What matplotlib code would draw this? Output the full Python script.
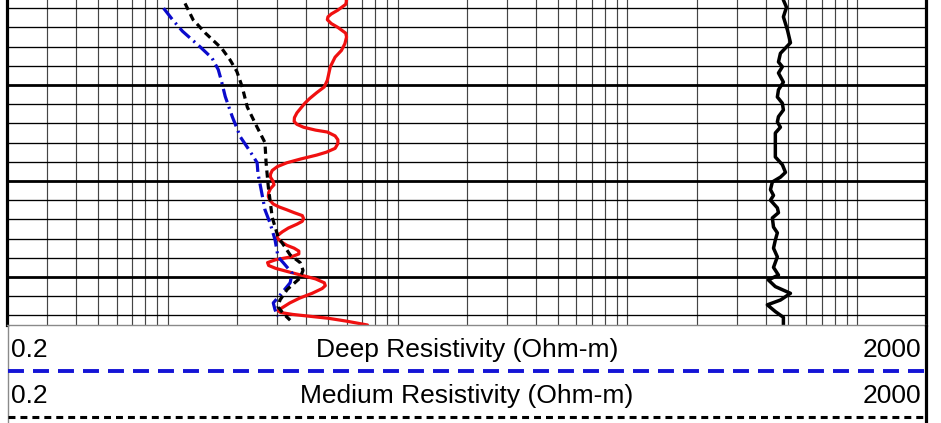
import matplotlib
matplotlib.use("Agg")
import matplotlib.pyplot as plt
from matplotlib.ticker import FixedLocator, NullFormatter
from matplotlib.lines import Line2D

plt.rcParams["font.family"] = ["Liberation Sans", "DejaVu Sans"]
plt.rcParams["lines.scale_dashes"] = False

# Resistivity scale (ohm-m) and depth window (ft)
res_min, res_max = 0.2, 2000
depth_top, depth_bottom = 5000.0, 5035.0

# Shallow resistivity (red, solid)
shallow_depth = [5000.0, 5001.2, 5001.6, 5002.2, 5002.6, 5002.9, 5003.2, 5003.6,
                 5004.0, 5004.6, 5005.0, 5005.7, 5006.4, 5007.1, 5008.1, 5009.5,
                 5010.2, 5010.8, 5011.4, 5011.9, 5012.9, 5013.4, 5013.8, 5014.1,
                 5014.4, 5014.7, 5014.9, 5015.3, 5015.7, 5016.1, 5016.6, 5017.0,
                 5017.3, 5017.7, 5018.1, 5018.5, 5018.9, 5019.3, 5019.6, 5020.0,
                 5020.4, 5020.8, 5021.2, 5021.6, 5022.0, 5022.4, 5022.7, 5023.0,
                 5023.3, 5023.6, 5023.9, 5024.2, 5024.5, 5024.9, 5025.3, 5025.7,
                 5025.9, 5026.3, 5026.7, 5027.0, 5027.3, 5027.6, 5027.9, 5028.2,
                 5028.5, 5028.8, 5029.1, 5029.5, 5029.8, 5030.2, 5030.6, 5030.9,
                 5031.2, 5031.7, 5032.2, 5032.7, 5033.2, 5033.5, 5033.7, 5033.9,
                 5034.3, 5034.6, 5035.0]
shallow_res = [5.7, 6.0, 5.95, 5.5, 5.15, 4.98, 4.95, 5.15,
               5.5, 5.95, 6.0, 5.9, 5.7, 5.35, 5.1, 4.95,
               4.8, 4.45, 4.15, 3.95, 3.65, 3.56, 3.55, 3.65,
               3.9, 4.4, 4.95, 5.35, 5.5, 5.5, 5.35, 4.9,
               4.45, 3.8, 3.3, 3.0, 2.85, 2.8, 2.8, 2.87,
               2.9, 2.8, 2.75, 2.74, 2.78, 2.88, 3.05, 3.3,
               3.55, 3.85, 3.9, 3.85, 3.65, 3.35, 3.15, 3.0,
               2.99, 3.1, 3.3, 3.55, 3.72, 3.72, 3.45, 2.95,
               2.72, 2.75, 2.95, 3.4, 3.8, 4.4, 4.8, 4.85,
               4.7, 4.25, 3.75, 3.4, 3.15, 3.02, 3.1, 3.5,
               5.0, 6.0, 7.4]

# Deep resistivity (blue, dash-dot)
deep_depth = [5002.0, 5003.2, 5004.4, 5006.0, 5007.2, 5008.4, 5009.5, 5011.2,
              5013.3, 5015.4, 5016.9, 5018.1, 5019.2, 5020.9, 5023.0, 5024.4,
              5026.1, 5027.9, 5028.5, 5029.6, 5030.6, 5031.9, 5032.7, 5033.4,
              5034.1]
deep_res = [0.96, 1.05, 1.16, 1.38, 1.56, 1.66, 1.71, 1.78,
            1.91, 2.07, 2.28, 2.45, 2.47, 2.55, 2.65, 2.79,
            2.93, 3.02, 3.18, 3.48, 3.41, 3.08, 2.88, 2.93,
            3.02]

# Medium resistivity (black, dashed)
medium_depth = [5001.5, 5003.2, 5004.6, 5006.2, 5007.4, 5008.6, 5010.2, 5012.3,
                5014.4, 5016.0, 5018.1, 5020.6, 5023.8, 5025.8, 5027.7, 5028.5,
                5029.3, 5030.1, 5031.3, 5032.4, 5033.1, 5033.8, 5034.5]
medium_res = [1.19, 1.29, 1.46, 1.72, 1.87, 2.0, 2.11, 2.22,
              2.45, 2.65, 2.68, 2.74, 2.85, 3.02, 3.41, 3.77,
              3.88, 3.77, 3.31, 3.08, 3.02, 3.18, 3.41]

# High-range trace on the right (black, solid)
right_depth = [5000.0, 5001.15, 5001.9, 5002.9, 5004.3, 5005.6, 5006.7, 5007.6,
               5008.1, 5008.75, 5009.7, 5010.5, 5011.25, 5011.9, 5012.6, 5013.3,
               5013.85, 5014.4, 5015.0, 5016.5, 5017.5, 5018.3, 5019.1, 5019.6,
               5020.1, 5020.9, 5021.5, 5022.0, 5022.8, 5023.3, 5023.85, 5024.8,
               5025.4, 5026.15, 5027.0, 5027.9, 5029.0, 5029.8, 5030.3, 5031.0,
               5031.7, 5032.4, 5032.9, 5033.6, 5034.2, 5035.0]
right_res = [477, 477, 492, 477, 497, 512, 463, 454,
             472, 454, 477, 454, 449, 472, 477, 454,
             449, 463, 440, 440, 440, 472, 487, 463,
             427, 419, 432, 419, 449, 454, 427, 432,
             449, 440, 432, 449, 432, 454, 410, 440,
             512, 463, 406, 440, 477, 477]

# Header rows
header_rows = [
    ("0.2", "Deep Resistivity (Ohm-m)", "2000"),
    ("0.2", "Medium Resistivity (Ohm-m)", "2000"),
]

W, H = 941, 423
fig = plt.figure(figsize=(W / 100, H / 100), dpi=100)

# ---- log track ----
ax = fig.add_axes([7 / W, 98 / H, 919.5 / W, 336 / H])
ax.set_xscale("log")
ax.set_xlim(res_min, res_max)
ax.set_ylim(depth_bottom, depth_top)

decades = [1, 10, 100, 1000]
minors = [m * d for d in [0.1, 1, 10, 100, 1000] for m in range(2, 10)
          if res_min < m * d < res_max]
ax.xaxis.set_major_locator(FixedLocator(decades))
ax.xaxis.set_minor_locator(FixedLocator(minors))
ax.yaxis.set_major_locator(FixedLocator([5000, 5010, 5020, 5030]))
ax.yaxis.set_minor_locator(FixedLocator([d for d in range(5002, 5036, 2) if d % 10]))
ax.xaxis.set_major_formatter(NullFormatter())
ax.xaxis.set_minor_formatter(NullFormatter())
ax.yaxis.set_major_formatter(NullFormatter())
ax.yaxis.set_minor_formatter(NullFormatter())
ax.tick_params(which="both", length=0)

ax.grid(which="both", axis="x", color="#454545", lw=0.85)
ax.grid(which="minor", axis="y", color="black", lw=0.95)
ax.grid(which="major", axis="y", color="black", lw=2.0)
ax.set_axisbelow(True)

for side in ("left", "right"):
    ax.spines[side].set_color("black")
    ax.spines[side].set_linewidth(2.3)
ax.spines["top"].set_visible(False)
ax.spines["bottom"].set_color("#8a8a8a")
ax.spines["bottom"].set_linewidth(1.0)

ax.plot(shallow_res, shallow_depth, color="#f01010", lw=2.3,
        solid_joinstyle="round", solid_capstyle="round")
ax.plot(deep_res, deep_depth, color="#0b0bcc", lw=2.3,
        dashes=(10, 3.5, 1.5, 3.5))
ax.plot(medium_res, medium_depth, color="black", lw=2.3, dashes=(5.2, 3.4))
ax.plot(right_res, right_depth, color="black", lw=2.5,
        solid_joinstyle="round", solid_capstyle="round")

# ---- header panel below the track ----
hp = fig.add_axes([0, 0, 1, 98 / H])
hp.set_xlim(0, W)
hp.set_ylim(H, 325)
hp.axis("off")
hp.add_line(Line2D([8, 8], [325, H], color="#8a8a8a", lw=1.0))
hp.add_line(Line2D([926.5, 926.5], [325, H], color="black", lw=2.3))

baselines = [357, 403]
for (lo, title, hi), yb in zip(header_rows, baselines):
    hp.text(11, yb, lo, fontsize=19, ha="left", va="baseline")
    hp.text(467, yb, title, fontsize=19, ha="center", va="baseline")
    hp.text(921, yb, hi, fontsize=19, ha="right", va="baseline")

hp.add_line(Line2D([8, 924], [371, 371], color="#1414d6", lw=2.8,
                   dashes=(11.5, 6.5)))
hp.add_line(Line2D([8, 924], [417, 417], color="black", lw=2.2,
                   dashes=(5, 3.6)))

fig.savefig("out.png", dpi=100)
